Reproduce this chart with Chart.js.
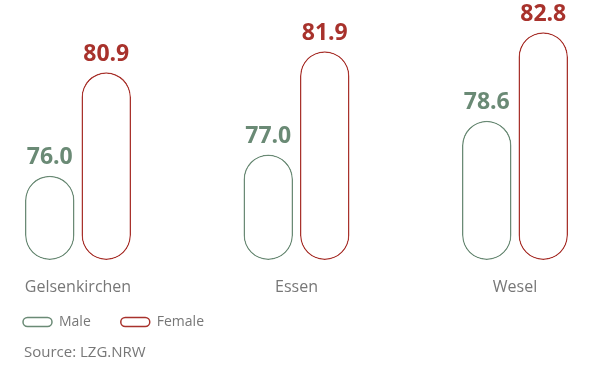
<!DOCTYPE html>
<html>
<head>
<meta charset="utf-8">
<script src="https://cdn.jsdelivr.net/npm/chart.js@4"></script>
<style>
  html, body { margin: 0; padding: 0; background: #fff; }
  #wrap { width: 594px; height: 366px; }
</style>
</head>
<body>
<div id="wrap"><canvas id="lifeChart"></canvas></div>
<script>
const cities = ['Gelsenkirchen', 'Essen', 'Wesel'];
const male = [76.0, 77.0, 78.6];
const female = [80.9, 81.9, 82.8];
const seriesNames = ['Male', 'Female'];
const sourceNote = 'Source: LZG.NRW';
const yFloor = 72;
const yCeil = 84;

const green = '#6a8a75';
const red = '#a8322c';
const grey = '#777777';
const font = '"Open Sans", "DejaVu Sans", sans-serif';

// value labels sitting just above each pill
const valueLabels = {
  id: 'valueLabels',
  afterDatasetsDraw(chart) {
    const ctx = chart.ctx;
    ctx.save();
    ctx.font = 'bold 23px ' + font;
    ctx.textAlign = 'center';
    ctx.textBaseline = 'alphabetic';
    chart.data.datasets.forEach((ds, i) => {
      chart.getDatasetMeta(i).data.forEach((bar, j) => {
        ctx.fillStyle = ds.borderColor;
        ctx.fillText(ds.data[j].toFixed(1), bar.x, bar.y - 11.5);
      });
    });
    ctx.restore();
  }
};

// source line under the legend
const sourceLine = {
  id: 'sourceLine',
  afterDraw(chart) {
    const ctx = chart.ctx;
    ctx.save();
    ctx.font = '15px ' + font;
    ctx.fillStyle = grey;
    ctx.textBaseline = 'middle';
    ctx.fillText(sourceNote, 24, 353);
    ctx.restore();
  }
};

// the x axis is kept short so the legend sits close; let its labels spill below it
const looseAxis = {
  id: 'looseAxis',
  afterLayout(chart) {
    chart.scales.x.bottom = chart.height;
  }
};

function pill(label, data, color) {
  return {
    label,
    data,
    base: yFloor,
    backgroundColor: '#ffffff',
    borderColor: color,
    borderWidth: 1.5,
    borderRadius: 100,
    borderSkipped: false,
    clip: false
  };
}

new Chart(document.getElementById('lifeChart'), {
  type: 'bar',
  data: {
    labels: cities,
    datasets: [
      pill(seriesNames[0], male, green),
      pill(seriesNames[1], female, red)
    ]
  },
  options: {
    responsive: true,
    maintainAspectRatio: false,
    animation: false,
    categoryPercentage: 0.517,
    barPercentage: 0.876,
    layout: { padding: { top: 7, right: 79, bottom: 27, left: -7 } },
    scales: {
      x: {
        offset: false,
        grid: { display: false, drawTicks: false },
        border: { display: false },
        ticks: {
          padding: 18,
          color: grey,
          font: { family: font, size: 16 },
          maxRotation: 0,
          autoSkip: false
        },
        afterFit(scale) { scale.height = 25; }
      },
      y: {
        min: yFloor,
        max: yCeil,
        grid: { display: false },
        border: { display: false },
        ticks: { display: false },
        afterFit(scale) { scale.width = 85; }
      }
    },
    plugins: {
      tooltip: { enabled: false },
      legend: {
        position: 'bottom',
        align: 'start',
        labels: {
          boxWidth: 29,
          boxHeight: 9,
          useBorderRadius: true,
          borderRadius: 4.5,
          padding: 30,
          color: grey,
          font: { family: font, size: 14 }
        }
      }
    }
  },
  plugins: [valueLabels, sourceLine, looseAxis]
});
</script>
</body>
</html>
